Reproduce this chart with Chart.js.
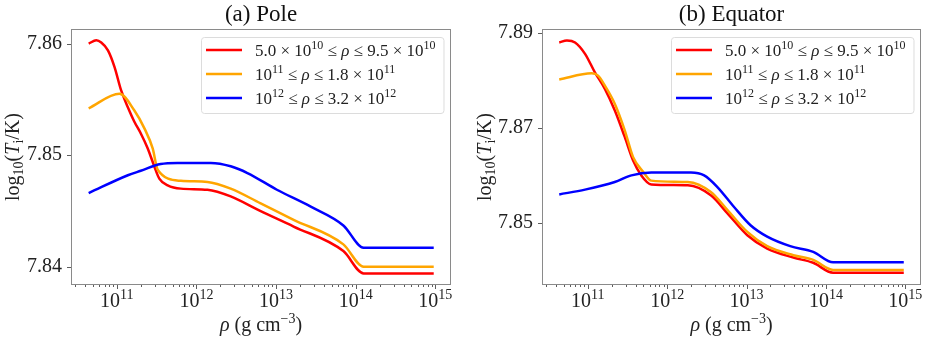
<!DOCTYPE html>
<html>
<head>
<meta charset="utf-8">
<script src="https://cdn.jsdelivr.net/npm/chart.js@4/dist/chart.umd.min.js"></script>
<style>
  html, body { margin: 0; padding: 0; background: #fff; }
  body { width: 926px; height: 344px; position: relative; overflow: hidden; }
  .panel { position: absolute; top: 0; height: 344px; }
  #wrapA { left: 0; width: 470px; }
  #wrapB { left: 470px; width: 456px; }
</style>
</head>
<body>
<div class="panel" id="wrapA"><canvas id="poleChart"></canvas></div>
<div class="panel" id="wrapB"><canvas id="equatorChart"></canvas></div>
<script>
// Series labels (^{..} = superscript, $..$ = italic)
const seriesLabels = [
    '5.0 × 10^{10} ≤ $ρ$ ≤ 9.5 × 10^{10}',
    '10^{11} ≤ $ρ$ ≤ 1.8 × 10^{11}',
    '10^{12} ≤ $ρ$ ≤ 3.2 × 10^{12}'
];
const seriesColors = ['#ff0000', '#ffa500', '#0000ff'];
const xAxisLabel = '$ρ$ (g cm^{−3})';
const yAxisLabel = 'log_{10}($T$_{i}/K)';

// Tick values
const xTickValues = [1e11, 1e12, 1e13, 1e14, 1e15];
const poleYTicks = [7.84, 7.85, 7.86];
const equatorYTicks = [7.85, 7.87, 7.89];

// (a) Pole - log10(rho) and log10(T)
const poleRedLogRho = [10.646, 10.742, 10.804, 10.888, 10.971, 11.054, 11.138, 11.22, 11.304, 11.388, 11.47, 11.533, 11.638, 11.804, 12.138, 12.43, 12.80, 13.22, 13.845, 14.10, 14.98];
const poleRedT = [7.8600, 7.8603, 7.8601, 7.8594, 7.8579, 7.8558, 7.8543, 7.8530, 7.8519, 7.8506, 7.8490, 7.8479, 7.8473, 7.8470, 7.8469, 7.8463, 7.8450, 7.8436, 7.8414, 7.8394, 7.8394];

const poleOrangeLogRho = [10.646, 11.033, 11.22, 11.346, 11.45, 11.513, 11.804, 12.138, 12.43, 12.80, 13.22, 13.845, 14.10, 14.98];
const poleOrangeT = [7.8542, 7.8555, 7.8540, 7.8524, 7.8506, 7.8487, 7.8477, 7.8476, 7.8470, 7.8457, 7.8442, 7.8420, 7.8400, 7.8400];

const poleBlueLogRho = [10.646, 11.138, 11.30, 11.55, 11.76, 12.18, 12.43, 12.64, 13.01, 13.43, 13.845, 14.10, 14.98];
const poleBlueT = [7.8466, 7.8482, 7.8486, 7.8492, 7.8493, 7.8493, 7.8490, 7.8484, 7.8469, 7.8454, 7.8437, 7.8417, 7.8417];

// (b) Equator
const eqRedLogRho = [10.641, 10.738, 10.84, 10.966, 11.09, 11.216, 11.34, 11.466, 11.57, 11.675, 11.80, 12.26, 12.55, 12.76, 13.01, 13.26, 13.59, 13.84, 14.09, 14.98];
const eqRedT = [7.8880, 7.8884, 7.8880, 7.8856, 7.8817, 7.8782, 7.8737, 7.8681, 7.8632, 7.8600, 7.8581, 7.8579, 7.8558, 7.8520, 7.8474, 7.8446, 7.8427, 7.8416, 7.8395, 7.8395];

const eqOrangeLogRho = [10.641, 11.05, 11.13, 11.216, 11.34, 11.466, 11.57, 11.70, 11.80, 12.26, 12.55, 12.76, 13.01, 13.26, 13.59, 13.84, 14.09, 14.98];
const eqOrangeT = [7.8802, 7.8815, 7.8810, 7.8789, 7.8751, 7.8695, 7.8639, 7.8607, 7.8589, 7.8586, 7.8565, 7.8527, 7.8481, 7.8451, 7.8432, 7.8422, 7.8401, 7.8401];

const eqBlueLogRho = [10.641, 10.966, 11.34, 11.55, 11.80, 12.30, 12.466, 12.63, 12.84, 13.05, 13.26, 13.55, 13.84, 14.09, 14.98];
const eqBlueT = [7.8560, 7.8570, 7.8586, 7.8600, 7.8606, 7.8606, 7.8600, 7.8576, 7.8534, 7.8495, 7.8471, 7.8451, 7.8439, 7.8417, 7.8417];

const FONT = "'Liberation Serif', 'DejaVu Serif', serif";
const TEXT_COLOR = '#222';
const LEGEND_SIZE = 17;

function toPoints(logRho, temps) {
    return logRho.map((lx, i) => ({ x: Math.pow(10, lx), y: temps[i] }));
}

// split "a^{b}c_{d}$e$" into styled pieces
function parseRich(str) {
    const parts = [];
    const re = /\^\{([^}]*)\}|_\{([^}]*)\}|\$([^$]*)\$|([^^_$]+)/g;
    let m;
    while ((m = re.exec(str)) !== null) {
        if (m[1] !== undefined) parts.push({ t: m[1], kind: 'sup' });
        else if (m[2] !== undefined) parts.push({ t: m[2], kind: 'sub' });
        else if (m[3] !== undefined) parts.push({ t: m[3], kind: 'it' });
        else parts.push({ t: m[4], kind: 'n' });
    }
    return parts;
}

function partFont(p, size) {
    if (p.kind === 'sup' || p.kind === 'sub') return Math.round(size * 0.7) + 'px ' + FONT;
    if (p.kind === 'it') return 'italic ' + size + 'px ' + FONT;
    return size + 'px ' + FONT;
}

function richWidth(ctx, parts, size) {
    let w = 0;
    parts.forEach(p => { ctx.font = partFont(p, size); w += ctx.measureText(p.t).width; });
    return w;
}

// draws at alphabetic baseline y; align 'left' or 'center'
function drawRich(ctx, str, x, y, size, align) {
    const parts = parseRich(str);
    let cx = align === 'center' ? x - richWidth(ctx, parts, size) / 2 : x;
    ctx.textBaseline = 'alphabetic';
    ctx.textAlign = 'left';
    parts.forEach(p => {
        ctx.font = partFont(p, size);
        let dy = 0;
        if (p.kind === 'sup') dy = -size * 0.42;
        if (p.kind === 'sub') dy = size * 0.22;
        ctx.fillText(p.t, cx, y + dy);
        cx += ctx.measureText(p.t).width;
    });
}

function powerLabel(value) {
    const exp = Math.round(Math.log10(value));
    return '10^{' + exp + '}';
}

// Axes frame, tick marks, tick labels, axis titles and legend
const framePlugin = {
    id: 'frame',
    afterDraw(chart) {
        const { ctx, chartArea: a, scales } = chart;
        const opts = chart.options.plugins.frame;
        ctx.save();
        ctx.strokeStyle = '#8a8a8a';
        ctx.lineWidth = 1;
        ctx.strokeRect(a.left + 0.5, a.top + 0.5, a.right - a.left - 1, a.bottom - a.top - 1);

        ctx.strokeStyle = '#333';
        ctx.lineWidth = 0.8;
        // x ticks: major + minor
        const xs = scales.x;
        for (let e = 10; e <= 15; e++) {
            for (let m = 1; m <= 9; m++) {
                const v = m * Math.pow(10, e);
                if (v < xs.min || v > xs.max) continue;
                const px = Math.round(xs.getPixelForValue(v)) + 0.5;
                const len = m === 1 ? 4 : 2;
                ctx.beginPath();
                ctx.moveTo(px, a.bottom);
                ctx.lineTo(px, a.bottom + len);
                ctx.stroke();
            }
        }
        const ys = scales.y;
        ys.ticks.forEach(t => {
            const py = Math.round(ys.getPixelForValue(t.value)) + 0.5;
            ctx.beginPath();
            ctx.moveTo(a.left, py);
            ctx.lineTo(a.left - 4, py);
            ctx.stroke();
        });

        ctx.fillStyle = TEXT_COLOR;
        // x tick labels
        xTickValues.forEach(v => {
            const px = xs.getPixelForValue(v);
            drawRich(ctx, powerLabel(v), px, a.bottom + 22, 20, 'center');
        });

        // axis titles
        drawRich(ctx, xAxisLabel, (a.left + a.right) / 2, 331, 20, 'center');
        ctx.save();
        ctx.translate(opts.yTitleX, (a.top + a.bottom) / 2);
        ctx.rotate(-Math.PI / 2);
        drawRich(ctx, yAxisLabel, 0, 0, 20, 'center');
        ctx.restore();

        // legend
        const labels = chart.data.datasets.map(d => d.label);
        const textW = Math.max(...labels.map(l => richWidth(ctx, parseRich(l), LEGEND_SIZE)));
        const boxW = 54 + textW + 8;
        const boxH = 76;
        const bx = Math.round(a.right - 8 - boxW);
        const by = a.top + 8;
        ctx.fillStyle = 'rgba(255,255,255,0.8)';
        ctx.strokeStyle = '#dcdcdc';
        ctx.lineWidth = 1;
        ctx.beginPath();
        ctx.roundRect(bx + 0.5, by + 0.5, boxW, boxH, 3);
        ctx.fill();
        ctx.stroke();
        chart.data.datasets.forEach((d, i) => {
            const ry = by + 13 + i * 24;
            ctx.strokeStyle = d.borderColor;
            ctx.lineWidth = 2.5;
            ctx.beginPath();
            ctx.moveTo(bx + 5, ry);
            ctx.lineTo(bx + 41, ry);
            ctx.stroke();
            ctx.fillStyle = TEXT_COLOR;
            drawRich(ctx, d.label, bx + 54, ry + 6, LEGEND_SIZE, 'left');
        });
        ctx.restore();
    }
};

function makePanel(canvasId, title, series, yMin, yMax, yTicks, axisWidth, yTitleX, rightPad) {
    const ctx = document.getElementById(canvasId).getContext('2d');
    return new Chart(ctx, {
        type: 'line',
        data: {
            datasets: series.map((s, i) => ({
                label: seriesLabels[i],
                data: s,
                borderColor: seriesColors[i],
                backgroundColor: seriesColors[i],
                borderWidth: 2.5,
                pointRadius: 0,
                cubicInterpolationMode: 'monotone',
                fill: false,
                order: 3 - i
            }))
        },
        options: {
            responsive: true,
            maintainAspectRatio: false,
            animation: false,
            layout: { padding: { left: 0, right: rightPad, top: 0, bottom: 0 } },
            plugins: {
                legend: { display: false },
                tooltip: { enabled: false },
                frame: { yTitleX: yTitleX },
                title: {
                    display: true,
                    text: title,
                    fullSize: false,
                    color: '#111',
                    font: { family: FONT, size: 23, weight: 'normal', lineHeight: 1.2 },
                    padding: { top: 1.4, bottom: 0 }
                }
            },
            scales: {
                x: {
                    type: 'logarithmic',
                    min: Math.pow(10, 10.424),
                    max: Math.pow(10, 15.197),
                    afterBuildTicks: scale => { scale.ticks = xTickValues.map(v => ({ value: v })); },
                    afterFit: scale => { scale.height = 59; },
                    grid: { display: false, drawTicks: false },
                    border: { display: false },
                    ticks: { display: false }
                },
                y: {
                    min: yMin,
                    max: yMax,
                    afterBuildTicks: scale => { scale.ticks = yTicks.map(v => ({ value: v })); },
                    afterFit: scale => { scale.width = axisWidth; },
                    grid: { display: false, drawTicks: false },
                    border: { display: false },
                    ticks: {
                        padding: 9,
                        color: TEXT_COLOR,
                        font: { family: FONT, size: 20 },
                        callback: value => Number(value).toFixed(2)
                    }
                }
            }
        },
        plugins: [framePlugin]
    });
}

makePanel('poleChart', '(a) Pole',
    [toPoints(poleRedLogRho, poleRedT), toPoints(poleOrangeLogRho, poleOrangeT), toPoints(poleBlueLogRho, poleBlueT)],
    7.83836, 7.86131, poleYTicks, 71, 19, 19);

makePanel('equatorChart', '(b) Equator',
    [toPoints(eqRedLogRho, eqRedT), toPoints(eqOrangeLogRho, eqOrangeT), toPoints(eqBlueLogRho, eqBlueT)],
    7.83692, 7.89083, equatorYTicks, 72, 21, 5);
</script>
</body>
</html>
